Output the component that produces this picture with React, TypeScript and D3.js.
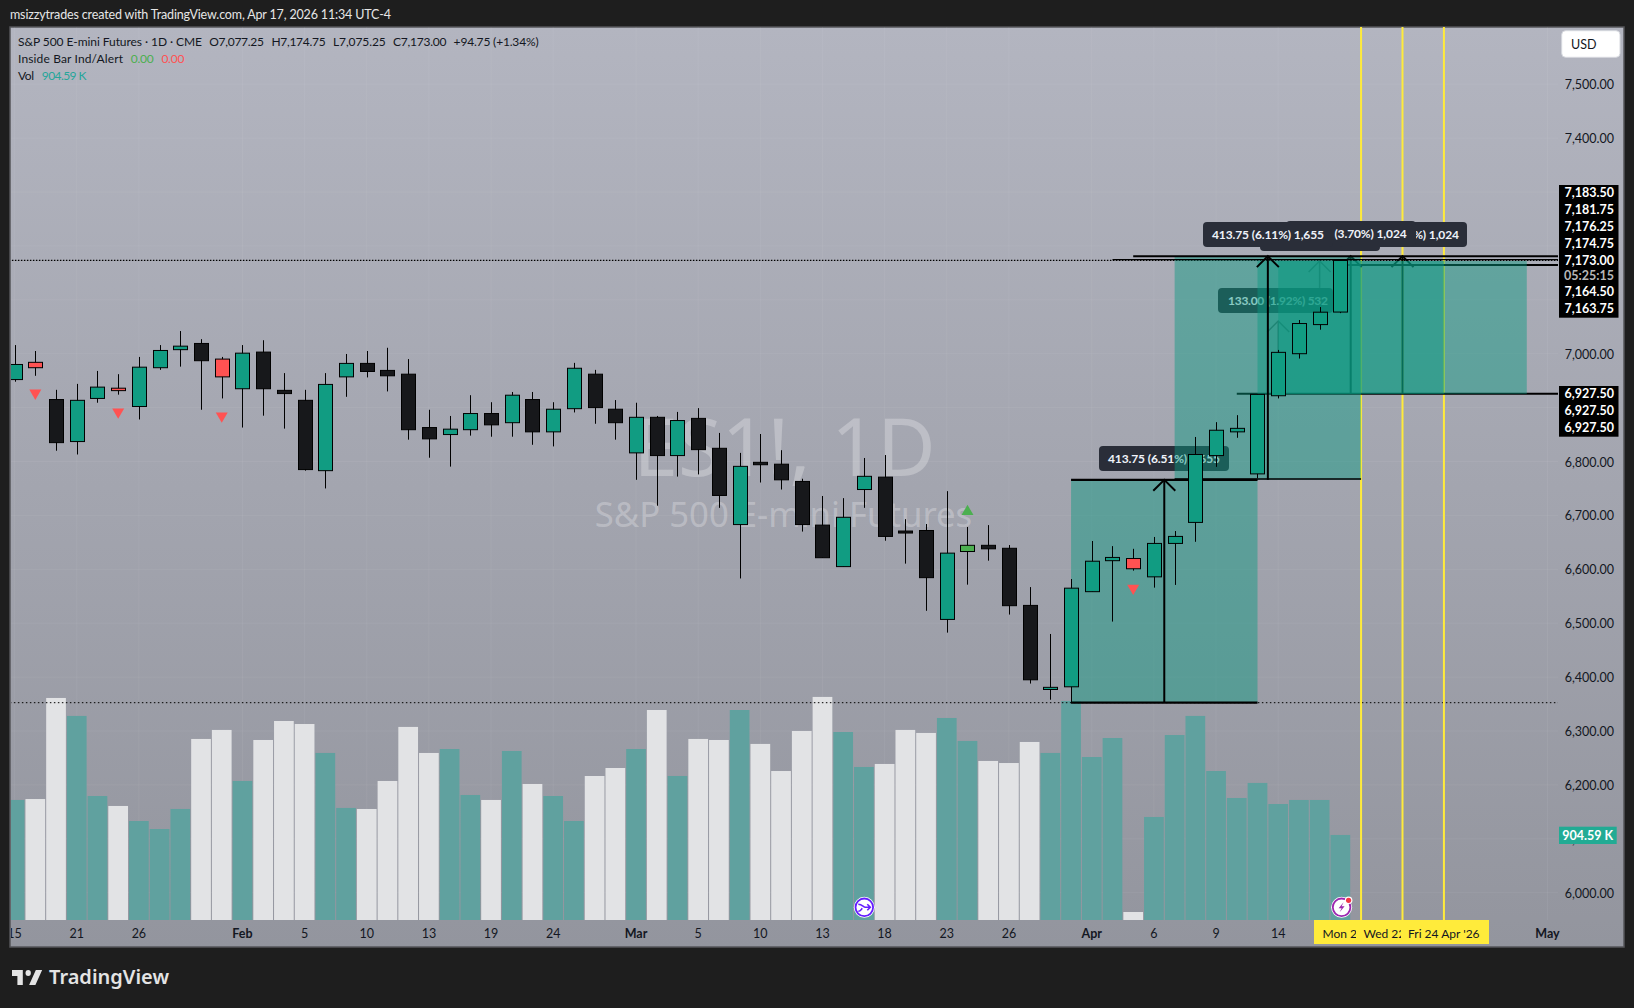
import React, { useEffect, useRef } from 'react';
import * as d3 from 'd3';

const opens = [6952,6984,6915,6837,6917,6936,6902,6974,7007.5,7019,6990,6935,7003,6932,6913.5,6783,6957,6982,6969,6962,6863,6850,6859,6889,6872,6915,6855,6898,6962,6897,6816,6882,6811,6880,6824.5,6683,6798.5,6795,6763,6682,6605,6748,6771,6671,6672,6507,6633,6644.5,6639,6533,6377,6382,6558.5,6616,6620,6586,6648,6687,6811,6855,6777,6922,7000,7054,7077.25];
const highs = [7016,7005,6933,6944,6968,6962,6994,7016,7042,7027,6994,7016,7025,6964,6933,6964,6999.5,7005,7011,6990,6896,6884.5,6923,6910,6929,6929,6910,6983,6970,6914,6909,6884.5,6892,6899,6853,6816,6851,6821,6768,6736,6732,6806.5,6812,6693,6684,6745,6678.5,6682,6645,6567,6480,6582,6652.5,6643,6638,6660,6671,6845.5,6873,6886,6925,7007,7062.5,7086.5,7174.75];
const lows = [6948,6959,6820,6813,6909,6924,6878,6970,6976,6896,6917,6863,6885,6861,6783,6750,6920,6956,6930,6840.5,6807,6790.5,6848,6846,6846,6831,6828,6891,6870,6840.5,6766,6718,6772,6776,6714,6583,6761,6748,6670,6621.5,6605,6714,6653,6610.5,6523,6482.5,6571.5,6616,6516,6388,6358,6352,6558.5,6503,6597.5,6566,6571,6651,6790,6844,6769,6917,6991,7044.5,7075.25];
const closes = [6980,6974,6835,6913.5,6938,6931.5,6975,7006,7014,6987,6957,7001,6935,6926,6785,6943,6982,6967,6959,6859,6842,6860,6889,6868,6923,6855,6897,6973,6900,6872,6882,6811,6876,6822,6737,6791,6794,6766,6683,6621.5,6696.5,6772.5,6661,6668,6584.5,6630,6644.5,6638,6532.5,6395,6381,6565,6615,6622,6601,6648,6661,6813,6858,6861.5,6924.5,7002.5,7056,7077,7173];
const volumes = [1277,1287,2362,2171,1319,1213,1053,968,1181,1926,2022,1479,1915,2117,2085,1777,1192,1181,1479,2054,1777,1819,1330,1277,1798,1447,1319,1053,1532,1617,1819,2234,1532,1926,1915,2234,1873,1585,2011,2373,2000,1628,1660,2022,1990,2149,1905,1692,1670,1894,1777,2330,1734,1936,85,1096,1968,2171,1585,1298,1458,1234,1277,1277,904.59];

const redBars = [1, 5, 10, 54];
const greenBars = [46];
const sellSignals = [[1, 6927], [5, 6892], [10, 6884.5], [54, 6565]];
const buySignals = [[46, 6707]];

const priceTicks = [7500,7400,7300,7200,7100,7000,6900,6800,6700,6600,6500,6400,6300,6200,6100,6000];
const timeBars = [0,3,6,11,14,17,20,23,26,30,33,36,39,42,45,48,52,55,58,61,74];
const timeLabels = ['15','21','26','Feb','5','10','13','19','24','Mar','5','10','13','18','23','26','Apr','6','9','14','May'];
const monthLabels = ['Feb', 'Mar', 'Apr', 'May'];
const markedBars = [65, 67, 69];
const markedLabels = ["Mon 20 Apr '26", "Wed 22 Apr '26", "Fri 24 Apr '26"];
const upperLabels = ['7,183.50','7,181.75','7,176.25','7,174.75','7,173.00','05:25:15','7,164.50','7,163.75'];
const lowerLabels = ['6,927.50','6,927.50','6,927.50'];

const App: React.FC = () => {
  const svgRef = useRef<SVGSVGElement>(null);

  useEffect(() => {
    if (!svgRef.current) return;
    const svg = d3.select(svgRef.current);
    svg.selectAll('*').remove();

    const font = 'Lato, sans-serif';
    const markFont = '"Noto Sans", sans-serif';
    const size = 12.5;
    const pane = { left: 10, top: 27, right: 1624, bottom: 947, base: 920, axis: 1558 };
    const rangeLow = 6925.5; // where the 6,927.50 tools sit on screen

    const x = d3.scaleLinear().domain([0, 74]).range([14.6, 1547.5]);
    const y = d3.scaleLinear().domain([7500, 6000]).range([84.2, 892.7]);
    const v = d3.scaleLinear().domain([0, 2500]).range([pane.base, pane.base - 235]);

    const defs = svg.append('defs');
    const grad = defs.append('linearGradient').attr('id', 'bg').attr('x1', 0).attr('x2', 0).attr('y1', 0).attr('y2', 1);
    grad.append('stop').attr('offset', 0).attr('stop-color', '#b3b5c0');
    grad.append('stop').attr('offset', 1).attr('stop-color', '#93959e');
    defs.append('clipPath').attr('id', 'pane').append('rect')
      .attr('x', pane.left + 1).attr('y', pane.top).attr('width', pane.right - pane.left).attr('height', pane.bottom - pane.top);

    svg.append('rect').attr('width', 1634).attr('height', 1008).attr('fill', '#1e1e1e');
    svg.append('rect').attr('x', pane.left).attr('y', pane.top)
      .attr('width', pane.right - pane.left).attr('height', pane.bottom - pane.top)
      .attr('fill', 'url(#bg)').attr('stroke', '#55565a').attr('stroke-width', 1.5);

    const root = svg.append('g').attr('clip-path', 'url(#pane)');

    const hLine = (g: any, price: number, from: number, toX: number, width: number, dash?: string) =>
      g.append('line').attr('x1', x(from)).attr('x2', toX).attr('y1', y(price)).attr('y2', y(price))
        .attr('stroke', '#000').attr('stroke-width', width).attr('stroke-dasharray', dash || null);

    const arrow = (g: any, bar: number, lowP: number, highP: number, width: number, opacity = 1) => {
      const ax = x(bar);
      const a = g.append('g').attr('stroke', '#000').attr('stroke-width', width).attr('opacity', opacity);
      a.append('line').attr('x1', ax).attr('x2', ax).attr('y1', y(lowP)).attr('y2', y(highP));
      a.append('path').attr('d', `M${ax - 11},${y(highP) + 11}L${ax},${y(highP)}L${ax + 11},${y(highP) + 11}`)
        .attr('fill', 'none');
    };

    const pill = (g: any, left: number, top: number, w: number, h: number, label: string, textX: number, len: number) => {
      g.append('rect').attr('x', left).attr('y', top).attr('width', w).attr('height', h).attr('rx', 4).attr('fill', '#2a2e39');
      g.append('text').attr('x', textX).attr('y', top + h / 2 + 4).attr('font-family', font)
        .attr('font-size', 12).attr('font-weight', 700).attr('textLength', len).attr('fill', '#f0f3fa').text(label);
    };

    // grid
    root.append('g').selectAll('line').data(priceTicks).join('line')
      .attr('x1', pane.left).attr('x2', pane.axis).attr('y1', d => y(d)).attr('y2', d => y(d))
      .attr('stroke', 'rgba(255,255,255,0.055)');
    root.append('g').selectAll('line').data(timeBars).join('line')
      .attr('x1', d => x(d)).attr('x2', d => x(d)).attr('y1', pane.top).attr('y2', pane.base)
      .attr('stroke', 'rgba(255,255,255,0.055)');

    // watermark
    root.append('text').attr('x', 784.5).attr('y', 476).attr('text-anchor', 'middle').attr('font-family', markFont)
      .attr('font-size', 80).attr('fill', 'rgba(255,255,255,0.27)').text('ES1!, 1D');
    root.append('text').attr('x', 783.5).attr('y', 527).attr('text-anchor', 'middle').attr('font-family', markFont)
      .attr('font-size', 34.7).attr('fill', 'rgba(255,255,255,0.27)').text('S&P 500 E-mini Futures');

    // volume
    const barW = x(1) - x(0);
    root.append('g').selectAll('rect').data(volumes).join('rect')
      .attr('x', (d, i) => x(i) - barW / 2 + 0.5).attr('width', barW - 1)
      .attr('y', d => v(d)).attr('height', d => pane.base - v(d))
      .attr('fill', (d, i) => closes[i] >= opens[i] ? '#60a19f' : '#e2e3e5');

    // dotted session high / low
    const dots = root.append('g');
    hLine(dots, 7173, -1, pane.axis, 1.3, '1.5,1.5');
    hLine(dots, 6352.5, -1, pane.axis, 1, '1.5,2.5');

    // yellow date markers
    root.append('g').selectAll('line').data(markedBars).join('line')
      .attr('x1', d => x(d)).attr('x2', d => x(d)).attr('y1', pane.top).attr('y2', pane.base)
      .attr('stroke', '#ffeb3b').attr('stroke-width', 2);

    // drawings that sit under the green ranges
    const under = root.append('g');
    hLine(under, rangeLow, 59, pane.axis, 2);
    hLine(under, 7164.5, 64, pane.axis, 2);
    arrow(under, 61, rangeLow, 7060.5, 1.5, 0.5);
    arrow(under, 63, 7122, 7172, 1.5, 0.5);
    arrow(under, 64.5, rangeLow, 7181, 2);
    arrow(under, 67, rangeLow, 7181, 2);
    pill(under, 1099, 446, 130, 25, '413.75 (6.51%) 1,655', 1108, 112);
    pill(under, 1218, 288, 115, 25, '133.00 (1.92%) 532', 1228, 100);

    // green ranges
    const ranges = [[60, 69, rangeLow, 7172], [61, 73, rangeLow, 7172], [56, 65, 6766, 7179.75], [51, 60, 6352.5, 6766]];
    root.append('g').selectAll('rect').data(ranges).join('rect')
      .attr('x', d => x(d[0])).attr('width', d => x(d[1]) - x(d[0]))
      .attr('y', d => y(d[3])).attr('height', d => y(d[2]) - y(d[3]))
      .attr('fill', 'rgba(8,153,129,0.45)');

    // drawings on top of them
    const over = root.append('g');
    hLine(over, 7181, 54, pane.axis, 2);
    hLine(over, 7174.5, 53, pane.axis, 1.3);
    hLine(over, 6766, 51, x(60), 2.2);
    hLine(over, 6767.5, 56, x(65), 1.5);
    hLine(over, 6352.5, 51, x(60), 2.2);
    arrow(over, 55.5, 6352.5, 6766, 2);
    arrow(over, 60.5, 6766, 7181, 2);

    // candles
    const bars = root.append('g').selectAll('g').data(opens).join('g');
    bars.append('line')
      .attr('x1', (d, i) => Math.round(x(i)) + 0.5).attr('x2', (d, i) => Math.round(x(i)) + 0.5)
      .attr('y1', (d, i) => y(highs[i])).attr('y2', (d, i) => y(lows[i]))
      .attr('stroke', '#000').attr('stroke-width', 1);
    bars.append('rect')
      .attr('x', (d, i) => Math.round(x(i)) - 6.5).attr('width', 14)
      .attr('y', (d, i) => y(Math.max(opens[i], closes[i])))
      .attr('height', (d, i) => Math.max(2, Math.abs(y(opens[i]) - y(closes[i]))))
      .attr('fill', (d, i) => {
        if (redBars.includes(i)) return '#ff5252';
        if (greenBars.includes(i)) return '#4caf50';
        return closes[i] >= opens[i] ? '#119c82' : '#17181b';
      })
      .attr('stroke', '#000').attr('stroke-width', 1);

    // inside bar signals
    const tri = d3.symbol().type(d3.symbolTriangle).size(62);
    root.append('g').selectAll('path').data(sellSignals).join('path').attr('d', tri as any)
      .attr('transform', d => `translate(${x(d[0])},${y(d[1])}) rotate(180)`).attr('fill', '#ff5252');
    root.append('g').selectAll('path').data(buySignals).join('path').attr('d', tri as any)
      .attr('transform', d => `translate(${x(d[0])},${y(d[1])})`).attr('fill', '#4caf50');

    // labels above the candles
    const tags = root.append('g');
    pill(tags, 1260, 226, 120, 25, '413.75 (6.11%) 1,655', 1267, 112);
    pill(tags, 1339, 222, 128, 25, '256.25 (3.70%) 1,024', 1347, 112);
    pill(tags, 1286, 221, 130, 25, '256.25 (3.70%) 1,024', 1294.7, 112);
    pill(tags, 1203, 222, 130, 25, '413.75 (6.11%) 1,655', 1212, 112);

    // price axis
    root.append('g').selectAll('text').data(priceTicks).join('text')
      .attr('x', 1614).attr('y', d => y(d) + 5).attr('text-anchor', 'end').attr('font-family', font)
      .attr('font-size', size).attr('fill', '#131722').text(d => d3.format(',.2f')(d));

    const stack = (rows: string[], top: number, h: number, cy: number[]) => {
      svg.append('rect').attr('x', 1559).attr('y', top).attr('width', 59.5).attr('height', h).attr('fill', '#000');
      svg.append('g').selectAll('text').data(rows).join('text')
        .attr('x', 1614).attr('y', (d, i) => cy[i] + 4.5).attr('text-anchor', 'end').attr('font-family', font)
        .attr('font-size', size).attr('font-weight', 700)
        .attr('fill', d => d.includes(':') ? '#b8b8b8' : '#fff').text(d => d);
    };
    stack(upperLabels, 185, 132.7, [192.3, 209.3, 226.3, 243.3, 260.7, 275, 291.7, 308.7]);
    stack(lowerLabels, 386, 50.7, [393.7, 410.7, 427.7]);

    svg.append('rect').attr('x', 1559).attr('y', 826.7).attr('width', 57.7).attr('height', 17.3).attr('fill', '#22ab94');
    svg.append('text').attr('x', 1613).attr('y', 839.5).attr('text-anchor', 'end').attr('font-family', font)
      .attr('font-size', size).attr('font-weight', 700).attr('fill', '#fff').text('904.59 K');

    svg.append('rect').attr('x', 1561.7).attr('y', 30.7).attr('width', 58.3).attr('height', 26.6).attr('rx', 4)
      .attr('fill', '#fff').attr('stroke', '#d6d8de');
    svg.append('text').attr('x', 1571).attr('y', 48.5).attr('font-family', font).attr('font-size', size)
      .attr('fill', '#131722').text('USD');

    // time axis
    root.append('g').selectAll('text').data(timeLabels).join('text')
      .attr('x', (d, i) => x(timeBars[i])).attr('y', 938).attr('text-anchor', 'middle').attr('font-family', font)
      .attr('font-size', size).attr('font-weight', d => monthLabels.includes(d) ? 700 : 400)
      .attr('fill', '#131722').text(d => d);

    const marks = svg.append('g');
    const markLeft = [1314, 1356, 1401];
    const markRight = [1356, 1401, 1489];
    const markText = [1322.5, 1363.4, 1408];
    markedLabels.forEach((d, i) => {
      marks.append('rect').attr('x', markLeft[i]).attr('y', 920).attr('width', markRight[i] - markLeft[i] + (i < 2 ? 60 : 0))
        .attr('height', 24).attr('fill', '#ffeb3b');
      marks.append('text').attr('x', markText[i]).attr('y', 938).attr('font-family', font).attr('font-size', 12)
        .attr('fill', '#131722').text(d);
    });

    // event badges
    const badge = (cx: number, color: string) => {
      const b = svg.append('g').attr('transform', `translate(${cx},907.3)`);
      b.append('circle').attr('r', 10.5).attr('fill', '#fff');
      b.append('circle').attr('r', 8.8).attr('fill', '#fff').attr('stroke', color).attr('stroke-width', 1.8);
      return b;
    };
    const split = badge(864.3, '#651fff');
    split.append('path').attr('d', 'M-6,-3C-2,-3 -1,0 1,0H6M3,-3L6,0L3,3M-6,4C-4,4 -3,2 -2,1')
      .attr('fill', 'none').attr('stroke', '#651fff').attr('stroke-width', 1.6);
    const earn = badge(1341.6, '#9c27b0');
    earn.append('path').attr('d', 'M2,-5L-3,1H0L-2,5L3,-1H0Z').attr('fill', '#9c27b0');
    earn.append('circle').attr('cx', 7).attr('cy', -7).attr('r', 3.8).attr('fill', '#fff');
    earn.append('circle').attr('cx', 7).attr('cy', -7).attr('r', 2.6).attr('fill', '#f23645');

    // legend
    const legend = (tx: number, ty: number, label: string, len: number, fill = '#131722') =>
      svg.append('text').attr('x', tx).attr('y', ty).attr('font-family', font).attr('font-size', 12)
        .attr('textLength', len).attr('fill', fill).text(label);
    legend(18, 46, 'S&P 500 E-mini Futures · 1D · CME', 184);
    legend(209.3, 46, 'O7,077.25', 54.6);
    legend(271.4, 46, 'H7,174.75', 54.3);
    legend(332.9, 46, 'L7,075.25', 52.9);
    legend(392.9, 46, 'C7,173.00', 53.6);
    legend(453.6, 46, '+94.75 (+1.34%)', 85);
    legend(18, 63, 'Inside Bar Ind/Alert', 105);
    legend(130.7, 63, '0.00', 23, '#4caf50');
    legend(161.4, 63, '0.00', 23, '#ff5252');
    legend(18, 80, 'Vol', 16);
    legend(41.8, 80, '904.59 K', 44.6, '#26a69a');

    // header and footer
    svg.append('text').attr('x', 10).attr('y', 19).attr('font-family', font).attr('font-size', 12.5)
      .attr('textLength', 381).attr('fill', '#e6e6e6').text('msizzytrades created with TradingView.com, Apr 17, 2026 11:34 UTC-4');
    const logo = svg.append('g').attr('transform', 'translate(10.2,964) scale(0.9,1)').attr('fill', '#e4e4e4');
    logo.append('path').attr('d', 'M14 6H2v6h6v9h6V6zM28 21h-7l7.5-15h7L28 21z');
    logo.append('circle').attr('cx', 20).attr('cy', 9).attr('r', 3);
    svg.append('text').attr('x', 49).attr('y', 984).attr('font-family', markFont).attr('font-size', 20)
      .attr('font-weight', 600).attr('fill', '#e4e4e4').text('TradingView');
  }, []);

  return <svg ref={svgRef} width={1634} height={1008} style={{ position: 'absolute', left: 0, top: 0, display: 'block' }} />;
};

export default App;
